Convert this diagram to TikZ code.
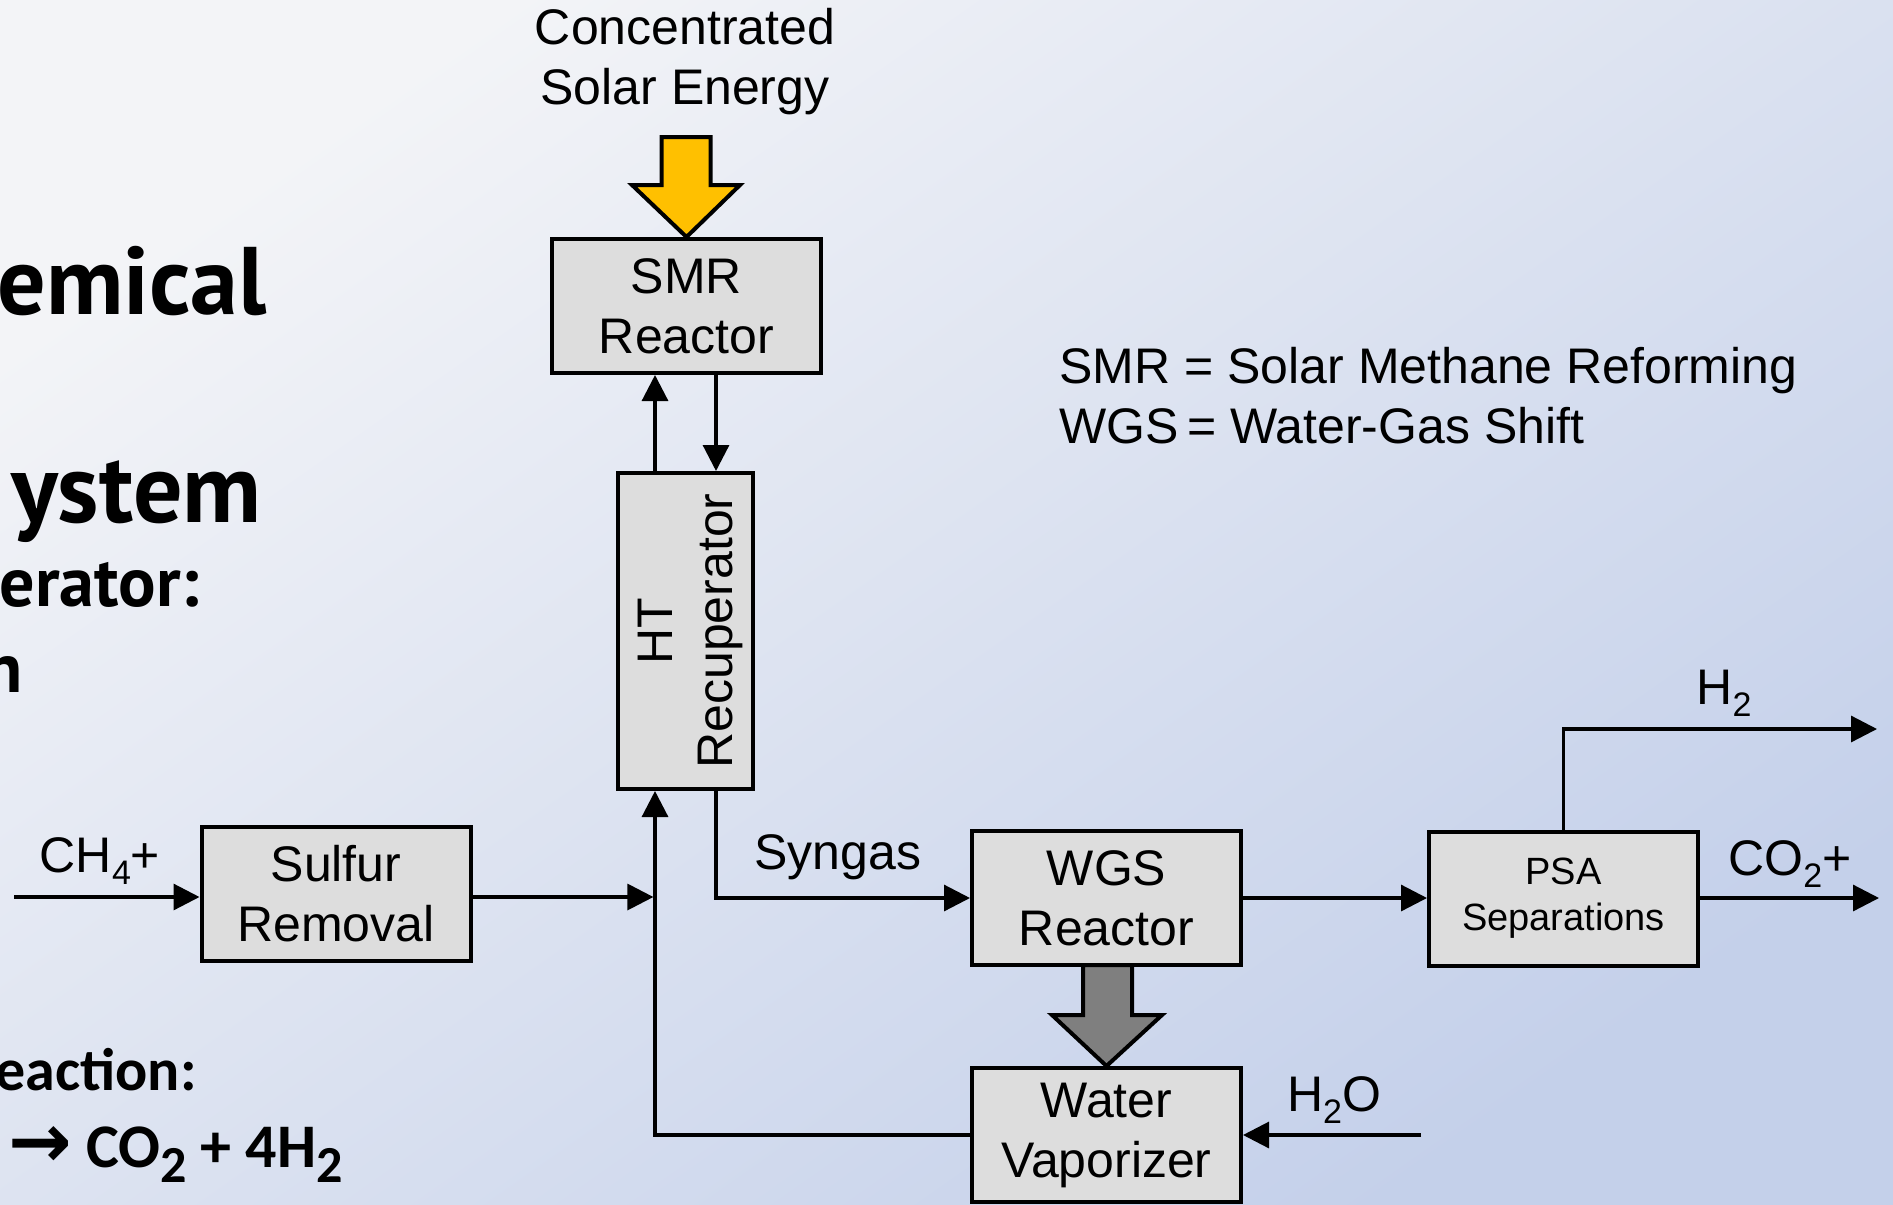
\documentclass[tikz,border=0pt]{standalone}
\usepackage{fontspec}
\setmainfont{Liberation Sans}
\newfontfamily\titlefont{PT Sans}
\newfontfamily\califont{Carlito}
\newfontfamily\symfont{DejaVu Sans}
\usetikzlibrary{arrows.meta,calc}
\definecolor{bgA}{RGB}{243,244,247}
\definecolor{bgB}{RGB}{196,208,234}
\definecolor{boxfill}{RGB}{221,221,221}
\definecolor{solar}{RGB}{255,192,0}
\definecolor{heatgray}{RGB}{127,127,127}
\newcommand\lsub[1]{\raisebox{-6pt}{\fontsize{17pt}{17pt}\selectfont #1}}
\newcommand\bsub[1]{\raisebox{-7.5pt}{\fontsize{26pt}{26pt}\selectfont #1}}
\begin{document}
\begin{tikzpicture}[x=0.5pt,y=-0.5pt,
  unit/.style={draw, line width=2pt, fill=boxfill, minimum width=134.5pt,
    minimum height=67pt, inner sep=0pt, align=center,
    font=\fontsize{25pt}{30pt}\selectfont},
  flow/.style={line width=1.6pt, -{Triangle[length=13pt,width=13pt]}},
  lbl/.style={inner sep=0pt, anchor=base, font=\fontsize{25pt}{30pt}\selectfont},
  titleline/.style={inner sep=0pt, anchor=base east},
  bigarrow/.style={draw, line width=2pt, line join=miter}
]
\useasboundingbox (0,0) rectangle (1893,1204);
\clip (0,0) rectangle (1893,1204);
\shade[top color=bgA, bottom color=bgB, shading angle=35] (0,0) rectangle (1893,1204);

% left slide text (cut off at the picture's edge)
\node[titleline, font=\titlefont\bfseries\fontsize{48pt}{56pt}\selectfont] (t1) at (267,314) {emical};
\node[titleline, font=\titlefont\bfseries\fontsize{49pt}{56pt}\selectfont] (t2) at (262,522) {ystem};
\node[titleline, font=\titlefont\bfseries\fontsize{35pt}{40pt}\selectfont] (t3) at (200,606) {erator:};
\node[titleline, font=\titlefont\bfseries\fontsize{35pt}{40pt}\selectfont] (t4) at (23,692) {n};
\node[titleline, font=\califont\bfseries\fontsize{30pt}{36pt}\selectfont] (t5) at (197,1090) {eaction:};
\node[inner sep=0pt, anchor=base west, font=\califont\bfseries\fontsize{31pt}{36pt}\selectfont] (t6) at (8,1167)
  {{\symfont\bfseries\fontsize{38pt}{38pt}\selectfont →}\hspace{7pt}CO\bsub{2} + 4H\bsub{2}};

% units
\node[unit] (smr) at (686.5,306) {SMR\\Reactor};
\node[unit, minimum width=67.5pt, minimum height=158pt] (ht) at (685.5,631) {};
\node[rotate=90, align=center, inner sep=0pt, font=\fontsize{25pt}{30pt}\selectfont] (htlabel) at (690,631) {HT\\Recuperator};
\node[unit] (sulfur) at (336,894) {Sulfur\\Removal};
\node[unit] (wgs) at (1106.5,898) {WGS\\Reactor};
\node[unit] (wv) at (1106.5,1135) {Water\\Vaporizer};
\node[unit, font=\fontsize{19pt}{23pt}\selectfont] (psa) at (1563.5,898.5) {PSA\\Separations};

% texts
\node[inner sep=0pt, align=center, font=\fontsize{25pt}{30pt}\selectfont] (solar) at (685,62) {Concentrated\\Solar Energy};
\node[inner sep=0pt, anchor=west, align=left, font=\fontsize{25pt}{30pt}\selectfont] (legend) at (1059,395.5)
  {SMR = Solar Methane Reforming\\WGS\,= Water-Gas Shift};
\node[lbl] (ch4lbl) at (100,872) {CH\lsub{4}+};
\node[lbl] (synlbl) at (838,869) {Syngas};
\node[lbl] (h2lbl) at (1724,704) {H\lsub{2}};
\node[lbl] (co2lbl) at (1790,875) {CO\lsub{2}+};
\node[lbl] (h2olbl) at (1334,1111) {H\lsub{2}O};

% helper coordinates
\coordinate (xa) at (655,0);
\coordinate (xb) at (716,0);
\coordinate (ch4in) at (14,897);
\coordinate (mix) at (655,897);
\coordinate (h2out) at (1877,729);
\coordinate (co2out) at (1879,898);
\coordinate (h2oin) at (1421,1135);

% block arrows
\draw[bigarrow, fill=solar] (661.5,137) -- (710.5,137) -- (710.5,185) -- (740,185)
  -- (smr.north) -- (632,185) -- (661.5,185) -- cycle;
\draw[bigarrow, fill=heatgray] (1083,965) -- (1132,965) -- (1132,1015) -- (1162,1015)
  -- (wv.north) -- (1052,1015) -- (1083,1015) -- cycle;

% connectors
\draw[flow] (ch4in) -- (ch4in -| sulfur.west);
\draw[flow] (sulfur.east |- mix) -- ([xshift=-0.8pt]mix);
\draw[flow] (wv.west |- h2oin) -| (ht.south -| xa);
\draw[flow] (ht.north -| xa) -- (smr.south -| xa);
\draw[flow] (smr.south -| xb) -- (ht.north -| xb);
\draw[flow] (ht.south -| xb) |- (wgs.west);
\draw[flow] (wgs.east) -- (wgs.east -| psa.west);
\draw[flow] (psa.north) |- (h2out);
\draw[flow] (psa.east |- co2out) -- (co2out);
\draw[flow] (h2oin) -- (h2oin -| wv.east);
\end{tikzpicture}
\end{document}
